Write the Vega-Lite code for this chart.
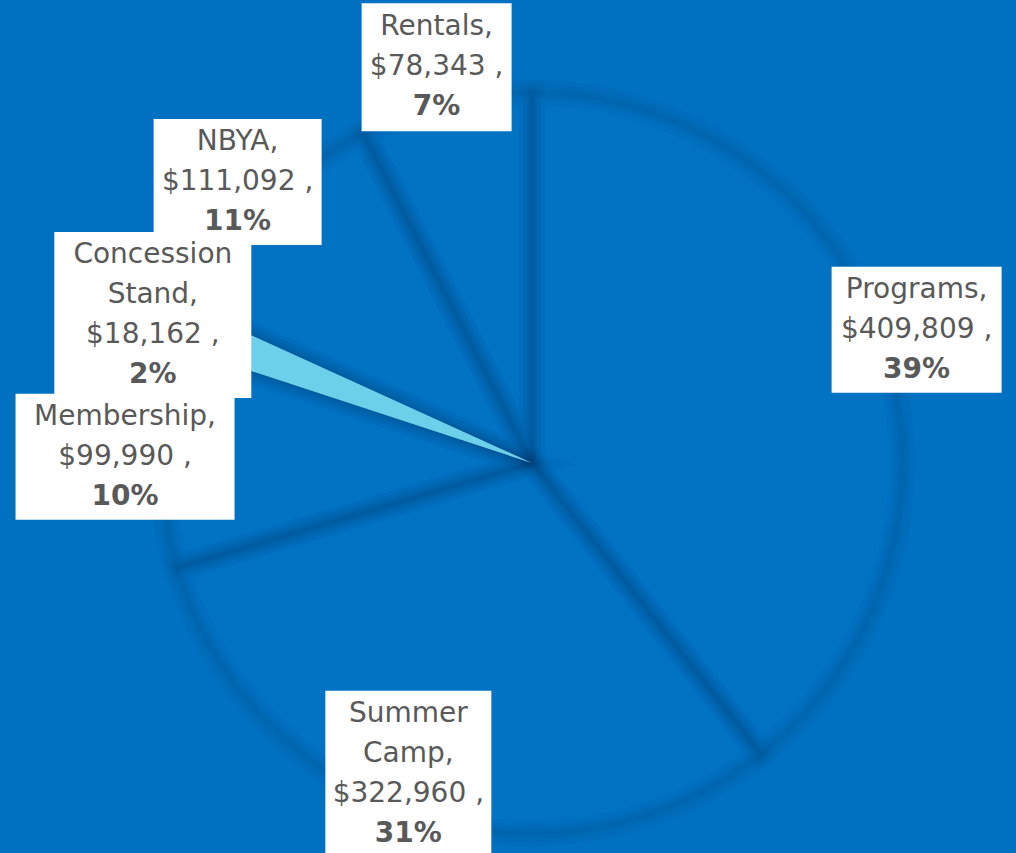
{
  "$schema": "https://vega.github.io/schema/vega-lite/v6.json",
  "width": 936,
  "height": 780,
  "autosize": {"type": "none"},
  "padding": {"left": 64, "top": 73, "right": 16, "bottom": 0},
  "background": "#0070C0",
  "config": {"view": {"stroke": null}, "font": "DejaVu Sans"},
  "data": {
    "values": [
      {"category": "Programs", "value": 409809, "percent": 0.39},
      {"category": "Summer Camp", "value": 322960, "percent": 0.31},
      {"category": "Membership", "value": 99990, "percent": 0.10},
      {"category": "Concession Stand", "value": 18162, "percent": 0.02},
      {"category": "NBYA", "value": 111092, "percent": 0.11},
      {"category": "Rentals", "value": 78343, "percent": 0.07}
    ]
  },
  "transform": [
    {"window": [{"op": "row_number", "as": "idx"}]},
    {"joinaggregate": [{"op": "sum", "field": "value", "as": "total"}]},
    {"window": [{"op": "sum", "field": "value", "as": "cum"}], "sort": [{"field": "idx"}], "frame": [null, 0]},
    {"calculate": "PI * (2 * datum.cum - datum.value) / datum.total", "as": "mid"},
    {"calculate": "1.1 * sin(datum.mid)", "as": "lx"},
    {"calculate": "max(1.1 * cos(datum.mid), -0.84)", "as": "ly"},
    {"calculate": "indexof(datum.category, ' ') >= 0 ? 4 : 3", "as": "nlines"},
    {"calculate": "datum.nlines == 4 ? split(datum.category, ' ')[0] : datum.category + ','", "as": "t1"},
    {"calculate": "datum.nlines == 4 ? split(datum.category, ' ')[1] + ',' : ''", "as": "t2"},
    {"calculate": "format(datum.value, '$,') + ' ,'", "as": "tm"},
    {"calculate": "format(datum.percent, '.0%')", "as": "tp"},
    {"calculate": "datum.ly + (datum.nlines == 4 ? 60 : 40) / 370", "as": "y1"},
    {"calculate": "datum.ly + 20 / 370", "as": "y2"},
    {"calculate": "datum.ly - (datum.nlines == 4 ? 20 : 0) / 370", "as": "ym"},
    {"calculate": "datum.ly - (datum.nlines == 4 ? 60 : 40) / 370", "as": "yp"}
  ],
  "layer": [
    {
      "mark": {"type": "arc", "radius": 370},
      "encoding": {
        "theta": {"field": "value", "type": "quantitative", "stack": true},
        "order": {"field": "idx", "type": "quantitative"},
        "color": {
          "field": "category", "type": "nominal", "legend": null,
          "scale": {
            "domain": ["Programs", "Summer Camp", "Membership", "Concession Stand", "NBYA", "Rentals"],
            "range": ["#0272C3", "#0272C3", "#0272C3", "#6DD0EA", "#0272C3", "#0272C3"]
          }
        }
      }
    },
    {
      "mark": {"type": "arc", "radius": 370, "fillOpacity": 0, "stroke": "#002850", "strokeOpacity": 0.028, "strokeWidth": 26},
      "encoding": {
        "theta": {"field": "value", "type": "quantitative", "stack": true},
        "order": {"field": "idx", "type": "quantitative"}
      }
    },
    {
      "mark": {"type": "arc", "radius": 370, "fillOpacity": 0, "stroke": "#002850", "strokeOpacity": 0.028, "strokeWidth": 18},
      "encoding": {
        "theta": {"field": "value", "type": "quantitative", "stack": true},
        "order": {"field": "idx", "type": "quantitative"}
      }
    },
    {
      "mark": {"type": "arc", "radius": 370, "fillOpacity": 0, "stroke": "#002850", "strokeOpacity": 0.028, "strokeWidth": 12},
      "encoding": {
        "theta": {"field": "value", "type": "quantitative", "stack": true},
        "order": {"field": "idx", "type": "quantitative"}
      }
    },
    {
      "mark": {"type": "arc", "radius": 370, "fillOpacity": 0, "stroke": "#002850", "strokeOpacity": 0.028, "strokeWidth": 7},
      "encoding": {
        "theta": {"field": "value", "type": "quantitative", "stack": true},
        "order": {"field": "idx", "type": "quantitative"}
      }
    },
    {
      "mark": {"type": "arc", "radius": 370, "fillOpacity": 0, "stroke": "#002850", "strokeOpacity": 0.028, "strokeWidth": 3},
      "encoding": {
        "theta": {"field": "value", "type": "quantitative", "stack": true},
        "order": {"field": "idx", "type": "quantitative"}
      }
    },
    {
      "mark": {"type": "arc", "radius": 370},
      "encoding": {
        "theta": {"field": "value", "type": "quantitative", "stack": true},
        "order": {"field": "idx", "type": "quantitative"},
        "color": {"field": "category", "type": "nominal", "legend": null},
        "opacity": {"condition": {"test": "datum.category === 'Concession Stand'", "value": 1}, "value": 0}
      }
    },
    {
      "mark": {"type": "point", "filled": true, "color": "#FFFFFF", "opacity": 1, "size": 4, "strokeWidth": 0},
      "encoding": {
        "x": {"field": "lx", "type": "quantitative", "axis": null, "scale": {"domain": [-1.26486, 1.26486], "nice": false, "zero": false}},
        "y": {"field": "ly", "type": "quantitative", "axis": null, "scale": {"domain": [-1.05405, 1.05405], "nice": false, "zero": false}},
        "shape": {
          "field": "category", "type": "nominal", "legend": null,
          "scale": {
            "domain": ["Programs", "Summer Camp", "Membership", "Concession Stand", "NBYA", "Rentals"],
            "range": [
              "M-85,-63H85V63H-85Z",
              "M-83,-83H83V83H-83Z",
              "M-109.5,-63H109.5V63H-109.5Z",
              "M-98.5,-83H98.5V83H-98.5Z",
              "M-84,-63H84V63H-84Z",
              "M-75,-64H75V64H-75Z"
            ]
          }
        }
      }
    },
    {
      "mark": {"type": "text", "fontSize": 28, "color": "#595959", "baseline": "middle", "align": "center", "font": "DejaVu Sans"},
      "encoding": {
        "x": {"field": "lx", "type": "quantitative"},
        "y": {"field": "y1", "type": "quantitative"},
        "text": {"field": "t1", "type": "nominal"}
      }
    },
    {
      "mark": {"type": "text", "fontSize": 28, "color": "#595959", "baseline": "middle", "align": "center", "font": "DejaVu Sans"},
      "encoding": {
        "x": {"field": "lx", "type": "quantitative"},
        "y": {"field": "y2", "type": "quantitative"},
        "text": {"field": "t2", "type": "nominal"}
      }
    },
    {
      "mark": {"type": "text", "fontSize": 28, "color": "#595959", "baseline": "middle", "align": "center", "font": "DejaVu Sans"},
      "encoding": {
        "x": {"field": "lx", "type": "quantitative"},
        "y": {"field": "ym", "type": "quantitative"},
        "text": {"field": "tm", "type": "nominal"}
      }
    },
    {
      "mark": {"type": "text", "fontSize": 28, "color": "#595959", "fontWeight": "bold", "baseline": "middle", "align": "center", "font": "DejaVu Sans"},
      "encoding": {
        "x": {"field": "lx", "type": "quantitative"},
        "y": {"field": "yp", "type": "quantitative"},
        "text": {"field": "tp", "type": "nominal"}
      }
    }
  ]
}
